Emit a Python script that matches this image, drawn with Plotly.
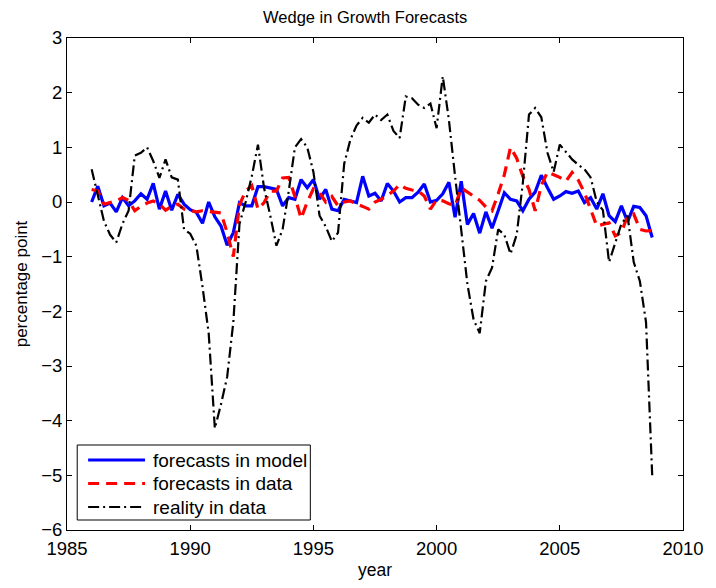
import numpy as np
import plotly.graph_objects as go

# quarterly dates 1986Q1 .. 2008Q4
years = [1986 + 0.25 * i for i in range(92)]

forecasts_model = [
    0.00, 0.29, -0.07, -0.02, -0.18, 0.08, -0.07, 0.02,
    0.15, 0.05, 0.34, -0.13, 0.20, -0.15, 0.14, -0.04,
    -0.14, -0.19, -0.39, 0.00, -0.27, -0.44, -0.79, -0.56,
    -0.01, -0.07, -0.07, 0.28, 0.28, 0.26, 0.23, -0.07,
    0.08, 0.05, 0.41, 0.26, 0.41, 0.05, 0.23, -0.13,
    -0.16, 0.05, 0.02, -0.01, 0.47, 0.11, 0.16, 0.02,
    0.34, 0.20, 0.00, 0.08, 0.08, 0.18, 0.33, 0.00,
    0.03, 0.15, 0.36, -0.28, 0.38, -0.41, -0.21, -0.57,
    -0.18, -0.48, -0.16, 0.17, 0.05, 0.02, -0.16, 0.05,
    0.18, 0.49, 0.26, 0.05, 0.11, 0.19, 0.16, 0.20,
    -0.01, 0.08, -0.13, 0.15, -0.25, -0.36, -0.07, -0.36,
    -0.08, -0.10, -0.25, -0.65,
]

forecasts_data = [
    0.23, 0.20, -0.04, -0.01, 0.02, 0.08, 0.03, -0.16,
    -0.08, -0.02, 0.02, -0.04, -0.15, -0.08, -0.04, -0.13,
    -0.16, -0.18, -0.16, -0.17, -0.18, -0.20, -0.56, -1.00,
    -0.05, 0.20, 0.30, -0.13, -0.01, 0.20, 0.20, 0.44,
    0.45, 0.10, -0.30, 0.00, 0.24, 0.17, 0.00, 0.10,
    -0.07, 0.00, 0.02, -0.04, -0.08, -0.13, 0.00, 0.05,
    0.12, 0.20, 0.32, 0.25, 0.22, 0.20, 0.11, -0.13,
    0.04, 0.02, -0.03, -0.07, 0.26, 0.18, 0.10, 0.03,
    -0.09, -0.16, 0.15, 0.50, 1.00, 0.80, 0.47, 0.23,
    -0.16, 0.30, 0.55, 0.50, 0.45, 0.38, 0.54, 0.40,
    0.17, -0.13, -0.44, -0.41, -0.38, -0.62, -0.56, -0.25,
    -0.22, -0.50, -0.53, -0.52,
]

reality_data = [
    0.60, 0.10, -0.35, -0.60, -0.74, -0.40, -0.16, 0.85,
    0.90, 1.00, 0.75, 0.44, 0.78, 0.45, 0.41, -0.50,
    -0.58, -0.80, -1.55, -2.40, -4.14, -3.70, -3.20, -2.20,
    -0.40, 0.00, 0.47, 1.05, 0.25, -0.25, -0.80, -0.50,
    0.20, 1.00, 1.15, 1.00, 0.55, -0.25, -0.45, -0.72,
    -0.56, 0.70, 1.14, 1.40, 1.54, 1.45, 1.60, 1.50,
    1.60, 1.30, 1.17, 1.93, 1.90, 1.78, 1.72, 1.80,
    1.35, 2.30, 1.50, 0.47, -0.50, -1.50, -2.15, -2.40,
    -1.45, -1.20, -0.50, -0.60, -0.95, -0.60, 0.35, 1.60,
    1.72, 1.55, 0.90, 0.55, 1.05, 0.92, 0.78, 0.68,
    0.60, 0.45, 0.00, -0.15, -1.10, -0.75, -0.40, -0.25,
    -1.10, -1.45, -2.20, -5.00,
]

series_names = ["forecasts in model", "forecasts in data", "reality in data"]
series_colors = ["#0000ff", "#ff0000", "#000000"]
series_widths = [3.2, 3.2, 2.2]
series_dashes = ["solid", "11px,7px", "11px,4px,2px,4px"]

x_ticks = [1985, 1990, 1995, 2000, 2005, 2010]
y_ticks = [-6, -5, -4, -3, -2, -1, 0, 1, 2, 3]

FONT = "Liberation Sans, Arial, Helvetica, sans-serif"

fig = go.Figure()
for vals, name, col, w, d in zip(
        [forecasts_model, forecasts_data, reality_data],
        series_names, series_colors, series_widths, series_dashes):
    fig.add_trace(go.Scatter(
        x=years, y=vals, mode="lines", name=name,
        line=dict(color=col, width=w, dash=d), showlegend=False,
    ))

# plot-area geometry in pixels (for placing the hand-built legend)
L, R, T, B = 67, 688, 38, 530
W, H = R - L, B - T


def px(xp):
    return (xp - L) / W


def py(yp):
    return (B - yp) / H


shapes = [dict(type="rect", xref="paper", yref="paper",
               x0=px(77.3), x1=px(312.3), y0=py(520), y1=py(445),
               line=dict(color="black", width=1), fillcolor="white", layer="above")]
annotations = []
row_y = [460, 483.5, 507]
for name, col, w, d, ry in zip(series_names, series_colors, series_widths, series_dashes, row_y):
    shapes.append(dict(type="line", xref="paper", yref="paper",
                       x0=px(88.3), x1=px(145.7), y0=py(ry), y1=py(ry),
                       line=dict(color=col, width=w, dash=d), layer="above"))
    annotations.append(dict(text=name, xref="paper", yref="paper",
                            x=px(151.5), y=py(ry), xanchor="left", yanchor="middle",
                            showarrow=False,
                            font=dict(family=FONT, size=19, color="black")))

axis_common = dict(
    showline=True, linecolor="black", linewidth=1, mirror="ticks",
    ticks="inside", ticklen=5, tickcolor="black", tickwidth=1,
    showgrid=False, zeroline=False,
    tickfont=dict(family=FONT, size=18.5, color="black"),
)

fig.update_layout(
    width=716, height=588,
    margin=dict(l=L, r=716 - R, t=T, b=588 - B),
    paper_bgcolor="white", plot_bgcolor="white",
    title=dict(text="Wedge in Growth Forecasts", x=0.51, xanchor="center",
               y=0.971, yanchor="middle",
               font=dict(family=FONT, size=16.5, color="black")),
    xaxis=dict(range=[1985, 2010], tickvals=x_ticks, ticklabelstandoff=2,
               title=dict(text="year", font=dict(family=FONT, size=17.5, color="black"), standoff=5),
               **axis_common),
    yaxis=dict(range=[-6, 3], tickvals=y_ticks,
               title=dict(text="percentage point", font=dict(family=FONT, size=17, color="black"), standoff=9),
               **axis_common),
    shapes=shapes,
    annotations=annotations,
    showlegend=False,
)

fig.write_html("out.html")
